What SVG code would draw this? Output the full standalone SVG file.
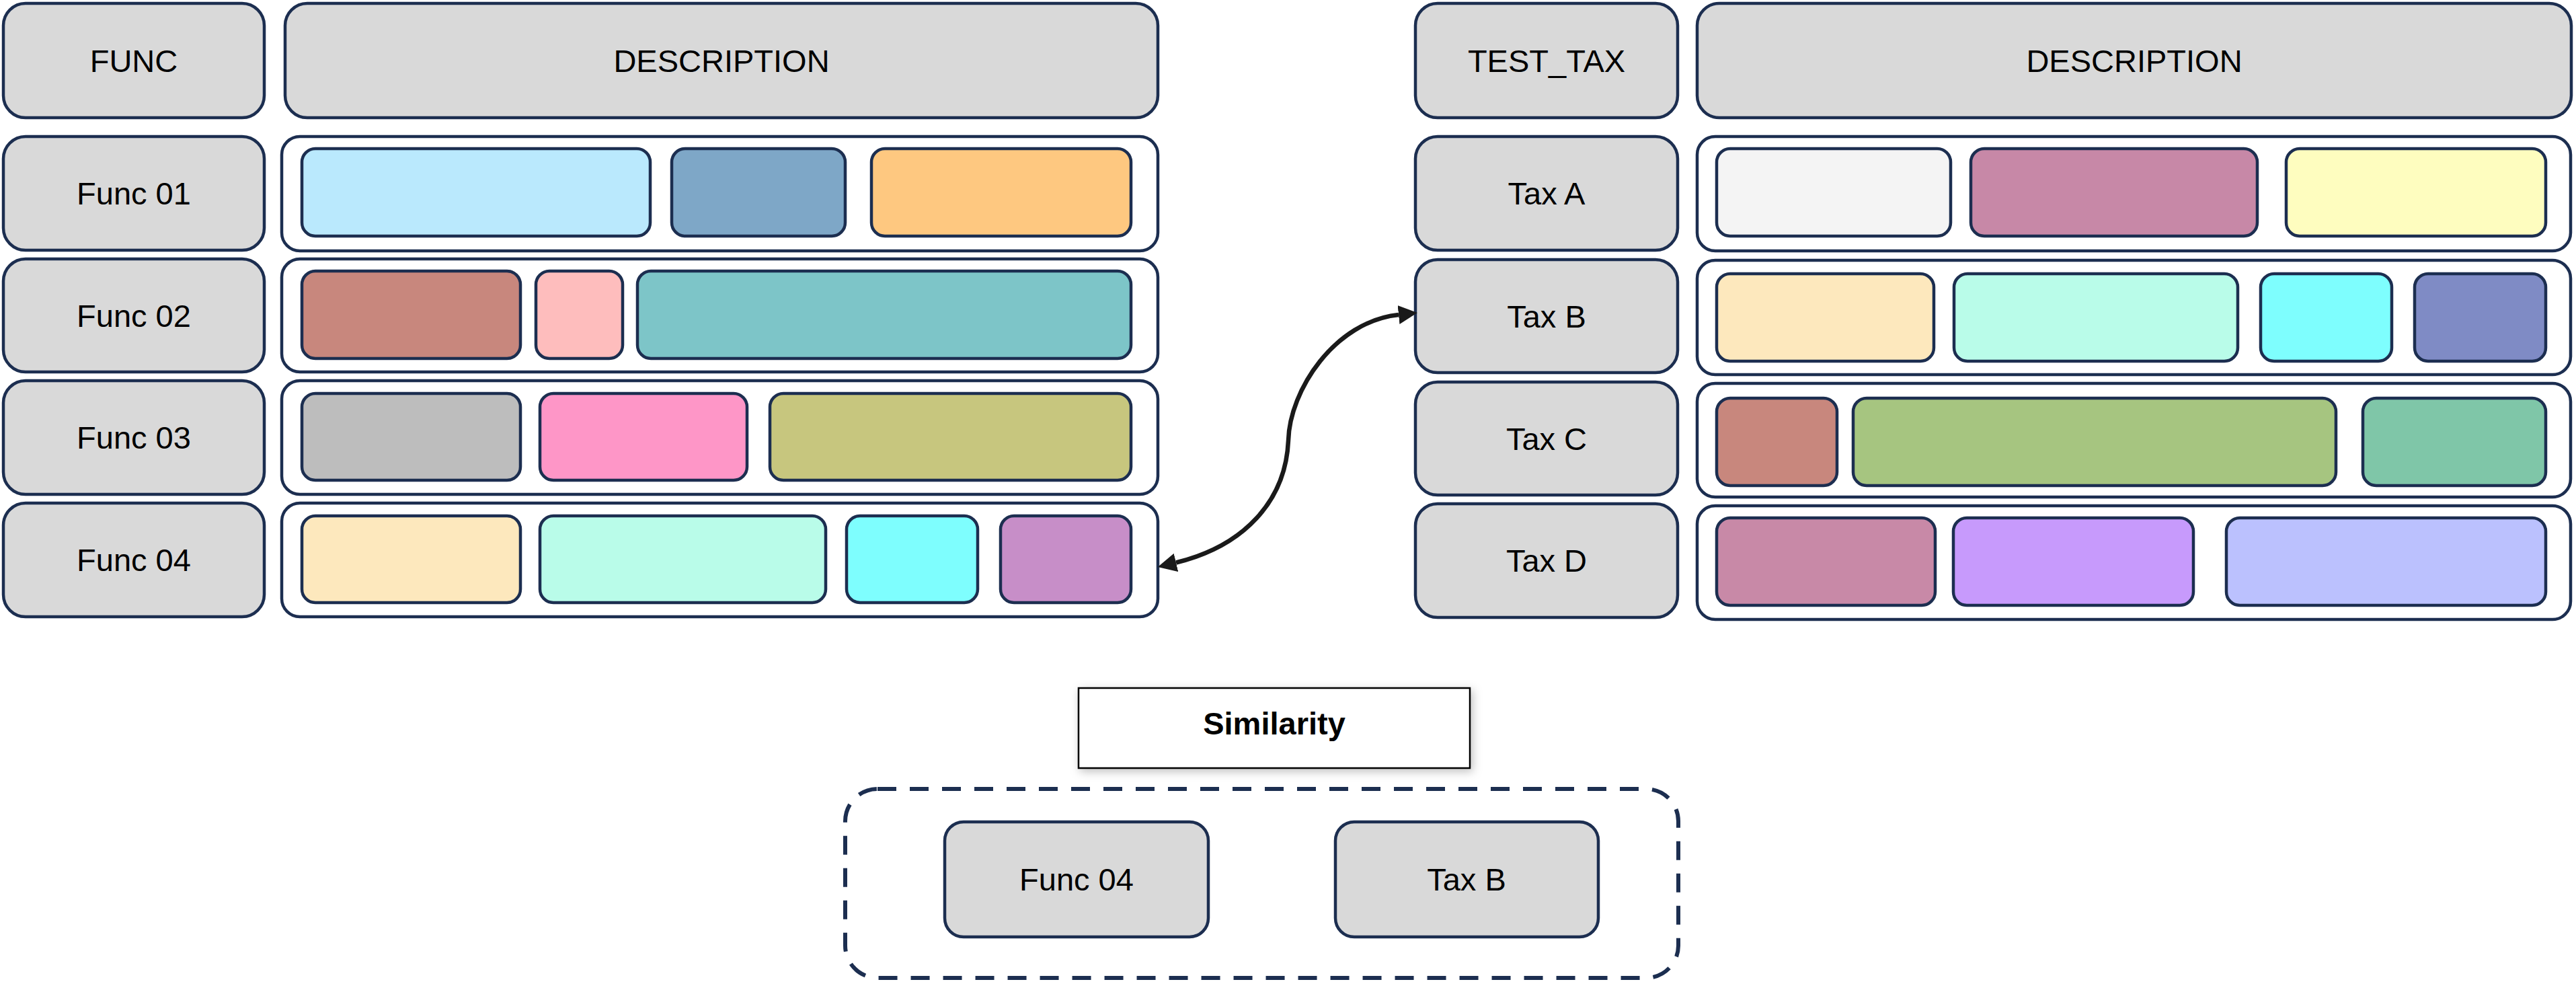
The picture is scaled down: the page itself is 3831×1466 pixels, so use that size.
<svg xmlns="http://www.w3.org/2000/svg" width="3831" height="1466" viewBox="0 0 3831 1466">
<style>
.lbl{fill:#d9d9d9;stroke:#1c2e50;stroke-width:4.5}
.row{fill:#ffffff;stroke:#1c2e50;stroke-width:4.5}
.cell{stroke:#1c2e50;stroke-width:4.5}
.t{font-family:"Liberation Sans",Arial,sans-serif;font-size:47px;fill:#000;text-anchor:middle}
.tb{font-family:"Liberation Sans",Arial,sans-serif;font-size:47px;font-weight:bold;fill:#000;text-anchor:middle}
.conn{fill:none;stroke:#1a1a1a;stroke-width:6.5}
</style>
<defs>
<marker id="ah" markerUnits="userSpaceOnUse" markerWidth="28" markerHeight="28" viewBox="0 0 28 28" refX="0" refY="14" orient="auto-start-reverse">
<path d="M0,0 L28,14 L0,28 z" fill="#1a1a1a"/>
</marker>
<filter id="sh" x="-10%" y="-20%" width="125%" height="150%">
<feDropShadow dx="3" dy="4" stdDeviation="7" flood-color="#000" flood-opacity="0.25"/>
</filter>
</defs>
<rect width="3831" height="1466" fill="#ffffff"/>

<!-- Left table -->
<g id="hdr-func"><rect class="lbl" x="5" y="5" width="388" height="170" rx="33"/><text class="t" x="199" y="107">FUNC</text></g>
<g id="hdr-desc-left"><rect class="lbl" x="424" y="5" width="1298" height="170" rx="33"/><text class="t" x="1073" y="107">DESCRIPTION</text></g>

<g id="func01"><rect class="lbl" x="5" y="203" width="388" height="169" rx="33"/><text class="t" x="199" y="304">Func 01</text></g>
<g id="func01-desc"><rect class="row" x="419" y="203" width="1303" height="170" rx="27"/>
<rect class="cell" x="449" y="221" width="518" height="130" rx="20" fill="#bae9fd"/>
<rect class="cell" x="999" y="221" width="258" height="130" rx="20" fill="#7ea7c7"/>
<rect class="cell" x="1296" y="221" width="386" height="130" rx="20" fill="#fec880"/></g>

<g id="func02"><rect class="lbl" x="5" y="385" width="388" height="168" rx="33"/><text class="t" x="199" y="486">Func 02</text></g>
<g id="func02-desc"><rect class="row" x="419" y="385" width="1303" height="168" rx="27"/>
<rect class="cell" x="449" y="403" width="325" height="130" rx="20" fill="#c8877d"/>
<rect class="cell" x="797" y="403" width="129" height="130" rx="20" fill="#febdbd"/>
<rect class="cell" x="948" y="403" width="734" height="130" rx="20" fill="#7dc5c8"/></g>

<g id="func03"><rect class="lbl" x="5" y="566" width="388" height="169" rx="33"/><text class="t" x="199" y="667">Func 03</text></g>
<g id="func03-desc"><rect class="row" x="419" y="566" width="1303" height="169" rx="27"/>
<rect class="cell" x="449" y="585" width="325" height="129" rx="20" fill="#bdbdbd"/>
<rect class="cell" x="803" y="585" width="308" height="129" rx="20" fill="#fe96c7"/>
<rect class="cell" x="1145" y="585" width="537" height="129" rx="20" fill="#c7c67e"/></g>

<g id="func04"><rect class="lbl" x="5" y="748" width="388" height="169" rx="33"/><text class="t" x="199" y="849">Func 04</text></g>
<g id="func04-desc"><rect class="row" x="419" y="748" width="1303" height="169" rx="27"/>
<rect class="cell" x="449" y="767" width="325" height="129" rx="20" fill="#fde8bd"/>
<rect class="cell" x="803" y="767" width="425" height="129" rx="20" fill="#b9fce9"/>
<rect class="cell" x="1259" y="767" width="195" height="129" rx="20" fill="#7efefe"/>
<rect class="cell" x="1488" y="767" width="194" height="129" rx="20" fill="#c78ec8"/></g>

<!-- Right table -->
<g id="hdr-testtax"><rect class="lbl" x="2105" y="5" width="390" height="170" rx="33"/><text class="t" x="2300" y="107">TEST_TAX</text></g>
<g id="hdr-desc-right"><rect class="lbl" x="2524" y="5" width="1300" height="170" rx="33"/><text class="t" x="3174" y="107">DESCRIPTION</text></g>

<g id="taxA"><rect class="lbl" x="2105" y="203" width="390" height="169" rx="33"/><text class="t" x="2300" y="304">Tax A</text></g>
<g id="taxA-desc"><rect class="row" x="2524" y="203" width="1299" height="170" rx="27"/>
<rect class="cell" x="2553" y="221" width="348" height="130" rx="20" fill="#f4f4f4"/>
<rect class="cell" x="2931" y="221" width="426" height="130" rx="20" fill="#c788a7"/>
<rect class="cell" x="3400" y="221" width="386" height="130" rx="20" fill="#fefdbf"/></g>

<g id="taxB"><rect class="lbl" x="2105" y="386" width="390" height="168" rx="33"/><text class="t" x="2300" y="487">Tax B</text></g>
<g id="taxB-desc"><rect class="row" x="2524" y="387" width="1299" height="170" rx="27"/>
<rect class="cell" x="2553" y="407" width="323" height="130" rx="20" fill="#fde8bd"/>
<rect class="cell" x="2906" y="407" width="422" height="130" rx="20" fill="#b9fce9"/>
<rect class="cell" x="3362" y="407" width="195" height="130" rx="20" fill="#7efefe"/>
<rect class="cell" x="3591" y="407" width="195" height="130" rx="20" fill="#7f8bc5"/></g>

<g id="taxC"><rect class="lbl" x="2105" y="568" width="390" height="168" rx="33"/><text class="t" x="2300" y="669">Tax C</text></g>
<g id="taxC-desc"><rect class="row" x="2524" y="570" width="1299" height="169" rx="27"/>
<rect class="cell" x="2553" y="592" width="179" height="130" rx="20" fill="#c8877d"/>
<rect class="cell" x="2756" y="592" width="718" height="130" rx="20" fill="#a6c580"/>
<rect class="cell" x="3514" y="592" width="272" height="130" rx="20" fill="#7fc6a8"/></g>

<g id="taxD"><rect class="lbl" x="2105" y="749" width="390" height="169" rx="33"/><text class="t" x="2300" y="850">Tax D</text></g>
<g id="taxD-desc"><rect class="row" x="2524" y="752" width="1299" height="169" rx="27"/>
<rect class="cell" x="2553" y="770" width="325" height="130" rx="20" fill="#c889a7"/>
<rect class="cell" x="2905" y="770" width="357" height="130" rx="20" fill="#c79afc"/>
<rect class="cell" x="3311" y="770" width="475" height="130" rx="20" fill="#bbc1fe"/></g>

<!-- Bottom -->
<g id="similarity"><rect x="1604" y="1023" width="582" height="119" fill="#ffffff" stroke="#000" stroke-width="2.5" filter="url(#sh)"/><text class="tb" x="1895" y="1092">Similarity</text></g>
<g id="similar-group"><rect x="1257" y="1173" width="1239" height="281" rx="48" fill="none" stroke="#1c2e50" stroke-width="6" stroke-dasharray="28 20"/></g>
<g id="sim-func04"><rect class="lbl" x="1405" y="1222" width="392" height="171" rx="28"/><text class="t" x="1601" y="1324">Func 04</text></g>
<g id="sim-taxB"><rect class="lbl" x="1986" y="1222" width="391" height="171" rx="28"/><text class="t" x="2181" y="1324">Tax B</text></g>

<!-- Connectors -->
<g id="connectors">
<path class="conn" d="M1749,836.5 C1850,812 1912,745 1916,655 C1918,580 1985,478 2080,468" marker-start="url(#ah)" marker-end="url(#ah)"/>
</g>
</svg>
